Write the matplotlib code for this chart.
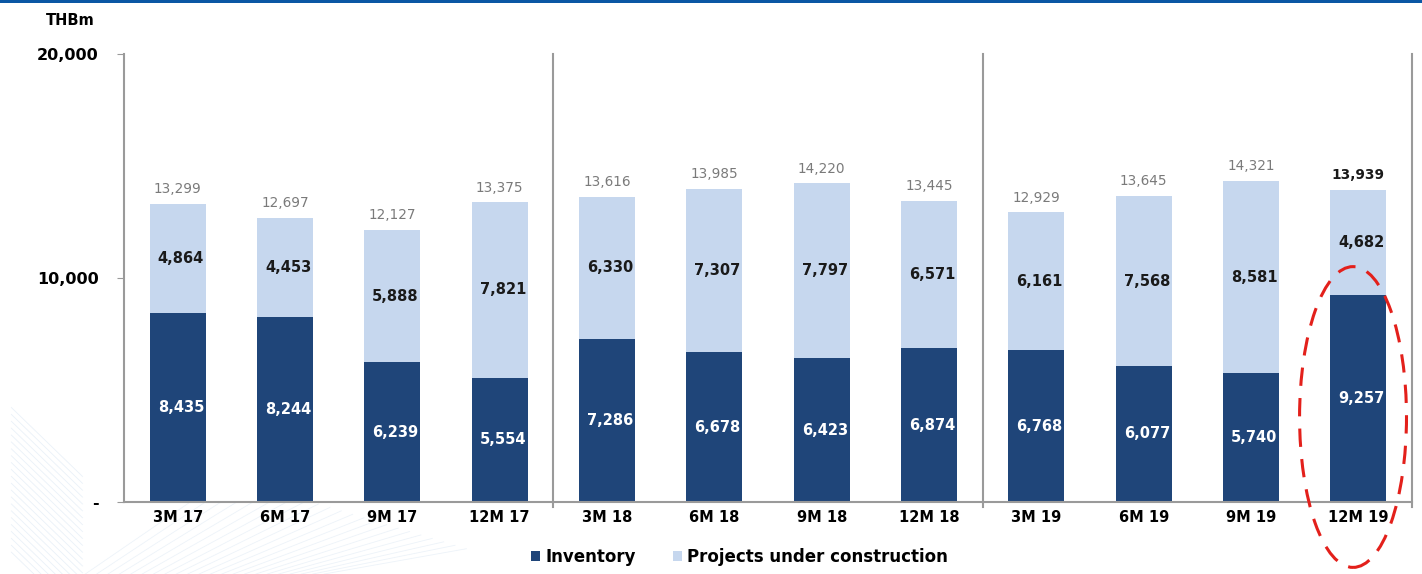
import matplotlib
matplotlib.use("Agg")
import matplotlib.pyplot as plt
from matplotlib.patches import Ellipse, Rectangle
from matplotlib.lines import Line2D
import numpy as np

plt.rcParams["font.family"] = ["DejaVu Sans"]

categories = ["3M 17", "6M 17", "9M 17", "12M 17",
              "3M 18", "6M 18", "9M 18", "12M 18",
              "3M 19", "6M 19", "9M 19", "12M 19"]
inventory = [8435, 8244, 6239, 5554, 7286, 6678, 6423, 6874, 6768, 6077, 5740, 9257]
projects = [4864, 4453, 5888, 7821, 6330, 7307, 7797, 6571, 6161, 7568, 8581, 4682]
totals = [13299, 12697, 12127, 13375, 13616, 13985, 14220, 13445, 12929, 13645, 14321, 13939]
yticks = [0, 10000, 20000]
ytick_labels = ["-", "10,000", "20,000"]

DARK = "#1F4579"
LIGHT = "#C6D7EE"
GREY = "#9A9A9A"

fig = plt.figure(figsize=(14.22, 5.74), dpi=100)
ax = fig.add_axes([0.0872, 0.1254, 0.9058, 0.7806])

x = np.arange(len(categories))
w = 0.52
ax.bar(x, inventory, w, color=DARK, label="Inventory", zorder=2)
ax.bar(x, projects, w, bottom=inventory, color=LIGHT,
       label="Projects under construction", zorder=2)

for i in x:
    inv, prj, tot = inventory[i], projects[i], totals[i]
    ax.text(i + 0.03, inv / 2, f"{inv:,}", ha="center", va="center",
            color="white", fontsize=10.5, fontweight="bold")
    ax.text(i + 0.03, inv + prj / 2, f"{prj:,}", ha="center", va="center",
            color="#1a1a1a", fontsize=10.5, fontweight="bold")
    last = i == len(categories) - 1
    ax.text(i, max(tot, inv + prj) + 350, f"{tot:,}", ha="center", va="bottom",
            color="#1a1a1a" if last else "#7a7a7a", fontsize=9.8,
            fontweight="bold" if last else "normal")

ax.set_xlim(-0.5, len(categories) - 0.5)
ax.set_ylim(0, 20000)
ax.set_xticks(x)
ax.set_xticklabels(categories, fontsize=10.5, fontweight="bold")
ax.set_yticks(yticks)
ax.set_yticklabels(ytick_labels, fontsize=11.5, fontweight="bold")
ax.tick_params(axis="x", length=0, pad=6)
ax.tick_params(axis="y", length=5, color=GREY, pad=13)

for s in ["top", "right"]:
    ax.spines[s].set_visible(False)
ax.spines["left"].set_color(GREY)
ax.spines["bottom"].set_color(GREY)
ax.spines["left"].set_linewidth(1.5)
ax.spines["bottom"].set_linewidth(1.5)

# year separators
for xs in [3.5, 7.5, 11.5]:
    ax.plot([xs, xs], [-200, 20000], color=GREY, lw=1.5, clip_on=False, zorder=1)

fig.text(0.0668, 0.965, "THBm", ha="right", va="center", fontsize=10.5,
         fontweight="bold")

leg = fig.legend(loc="lower center", bbox_to_anchor=(0.52, -0.012), ncol=2,
                 frameon=False, fontsize=12, handlelength=0.55, handleheight=0.55,
                 columnspacing=2.2, handletextpad=0.3)
for t in leg.get_texts():
    t.set_fontweight("bold")

# top rule
fig.add_artist(Rectangle((0, 0.994), 1, 0.006, transform=fig.transFigure,
                         color="#0B57A4", lw=0))

# faint background pattern, bottom-left
for k in range(22):
    y0 = 0.29 - k * 0.012
    fig.add_artist(Line2D([0.008, 0.008 + 0.05], [y0, y0 - 0.12],
                          transform=fig.transFigure, color="#EAF1F8", lw=0.6, zorder=0))
for k in range(22):
    x0 = 0.06 + k * 0.008
    fig.add_artist(Line2D([x0, x0 + 0.1], [0.0, 0.17 - k * 0.006],
                          transform=fig.transFigure, color="#EDF3F9", lw=0.6, zorder=0))

# highlight of last bar
fig.add_artist(Ellipse((0.9515, 0.2735), 0.0752, 0.524, transform=fig.transFigure,
                       fill=False, edgecolor="#E3201B", lw=2.2, linestyle=(0, (6, 4))))

fig.savefig("out.png", dpi=100, facecolor="white")
